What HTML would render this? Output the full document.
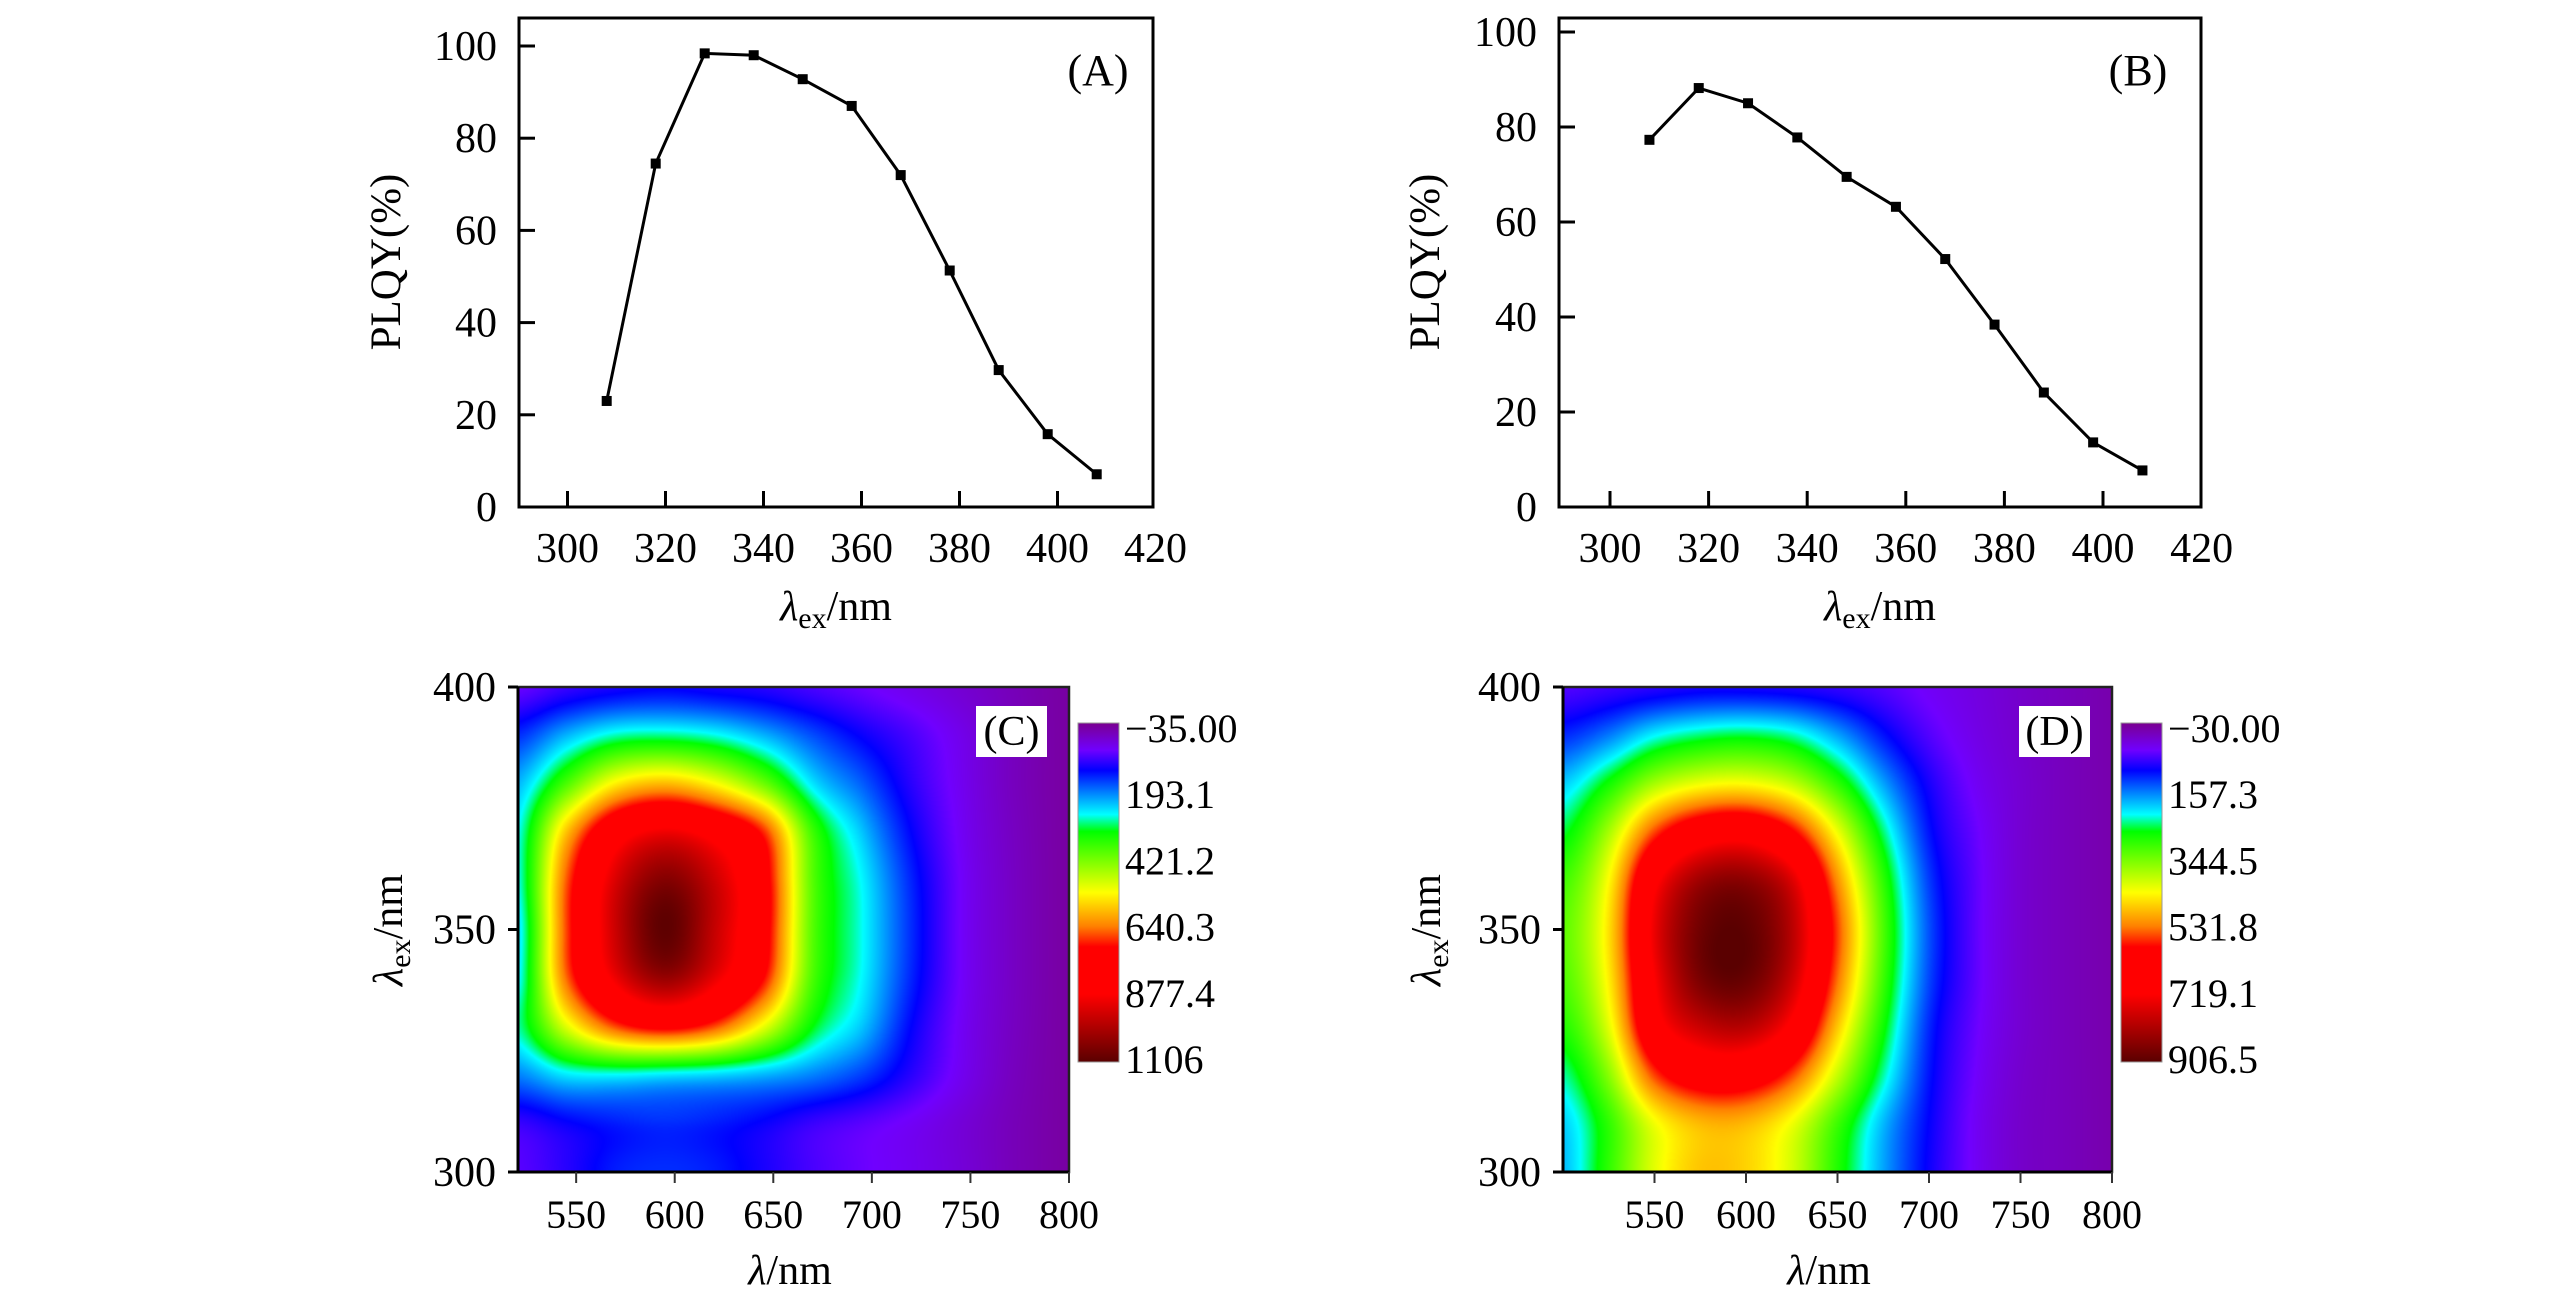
<!DOCTYPE html>
<html><head><meta charset="utf-8">
<style>
html,body{margin:0;padding:0;background:#fff;}
#wrap{position:relative;width:2567px;height:1308px;overflow:hidden;background:#fff;}
canvas{position:absolute;}
svg{position:absolute;left:0;top:0;}
svg text{font-family:"Liberation Serif","Times New Roman",serif;fill:#000;}
</style></head>
<body>
<div id="wrap">
<canvas id="heatC"></canvas>
<canvas id="heatD"></canvas>
<svg id="svg" width="2567" height="1308" viewBox="0 0 2567 1308" font-family="Liberation Serif, Times New Roman, serif">
<defs>
<linearGradient id="cmap" x1="0" y1="0" x2="0" y2="1">
<stop offset="0" stop-color="#7a0090"/><stop offset="0.08" stop-color="#7000ff"/>
<stop offset="0.14" stop-color="#0000ff"/><stop offset="0.27" stop-color="#00ffff"/>
<stop offset="0.32" stop-color="#00ff00"/><stop offset="0.5" stop-color="#ffff00"/>
<stop offset="0.6" stop-color="#ff8000"/><stop offset="0.66" stop-color="#ff0000"/>
<stop offset="0.8" stop-color="#ff0000"/><stop offset="1" stop-color="#5a0000"/>
</linearGradient>
</defs>
</svg>
</div>
<script>
// ---- Panel A / B data ----
const aWave=[308,318,328,338,348,358,368,378,388,398,408];
const aPlqy=[23,74.5,98.4,98,92.8,87,72,51.3,29.7,15.8,7.1];
const bWave=[308,318,328,338,348,358,368,378,388,398,408];
const bPlqy=[77.3,88.2,85,77.8,69.5,63.2,52.2,38.4,24.1,13.6,7.7];
const lineXTicks=[300,320,340,360,380,400,420];
const lineYTicks=[0,20,40,60,80,100];
// ---- Heatmap data ----
const cEm=[520,545,570,595,620,645,670,695,720,745,770,800];
const cEx=[400,390,380,370,360,350,340,330,320,310,300];
const cGrid=[
[60,90,110,120,110,100,80,60,40,20,0,-20],
[150,230,290,300,280,230,170,120,80,40,5,-20],
[230,390,550,600,540,420,260,180,100,45,5,-20],
[270,590,820,900,840,700,380,240,125,50,8,-20],
[270,670,930,1050,950,760,400,270,145,55,10,-20],
[250,680,950,1100,960,760,400,275,150,55,10,-20],
[260,660,900,1020,910,720,390,270,145,55,10,-20],
[290,510,680,740,680,520,330,240,125,50,8,-20],
[200,260,270,260,250,230,200,160,100,45,5,-20],
[90,120,140,150,140,120,90,70,50,25,0,-20],
[70,100,140,150,140,110,80,60,45,25,0,-20]];
const cBarLabels=["\u221235.00","193.1","421.2","640.3","877.4","1106"];
const dEm=[500,525,550,575,600,625,650,675,700,725,750,775,800];
const dEx=[400,390,380,370,360,350,340,330,320,310,300];
const dGrid=[
[60,70,80,90,90,85,75,60,40,25,10,0,-10],
[120,160,220,250,260,240,180,110,60,30,12,0,-10],
[200,280,380,430,440,400,300,180,90,40,15,0,-10],
[260,380,560,660,680,600,430,250,110,50,15,0,-10],
[310,440,700,830,850,760,520,300,130,55,15,0,-10],
[330,460,740,880,900,800,560,320,140,55,15,0,-10],
[320,450,720,870,890,780,540,310,135,55,15,0,-10],
[290,420,680,780,800,700,480,280,120,50,15,0,-10],
[240,360,560,640,640,560,400,240,110,45,12,0,-10],
[200,300,430,490,490,430,310,190,100,40,10,0,-10],
[190,300,420,480,470,410,290,180,95,40,10,0,-10]];
const dBarLabels=["\u221230.00","157.3","344.5","531.8","719.1","906.5"];
const heatXTicks=[550,600,650,700,750,800];
const heatYTicks=[300,350,400];

const NS="http://www.w3.org/2000/svg";
const svg=document.getElementById('svg');
function el(tag,attrs,parent){const e=document.createElementNS(NS,tag);for(const k in attrs)e.setAttribute(k,attrs[k]);(parent||svg).appendChild(e);return e;}
function txt(x,y,s,size,anchor,parent){const t=el('text',{x:x,y:y,'font-size':size,'text-anchor':anchor||'middle','font-family':'Liberation Serif, serif'},parent);t.textContent=s;return t;}
function lamTitle(x,y,sub,rot,parent){
  const t=el('text',{x:x,y:y,'font-size':42,'text-anchor':'middle','font-family':'Liberation Serif, serif'},parent);
  if(rot)t.setAttribute('transform','rotate(-90 '+x+' '+y+')');
  const a=el('tspan',{'font-style':'italic'},t);a.textContent='\u03bb';
  if(sub){const b=el('tspan',{'font-size':30,dy:8},t);b.textContent='ex';const c=el('tspan',{dy:-8},t);c.textContent='/nm';}
  else{const c=el('tspan',{},t);c.textContent='/nm';}
  return t;
}

// ---- Line panels ----
function linePanel(cfg){
  const g=el('g',{});
  
  
  const X=v=>cfg.x0+(v-300)*cfg.kx, Y=v=>cfg.y0-v*cfg.ky;
  const box=el('rect',{x:cfg.L,y:cfg.T,width:cfg.R-cfg.L,height:cfg.B-cfg.T,fill:'#fff',stroke:'#000','stroke-width':3},g);
  
  lineXTicks.forEach(v=>{const x=X(v);
    if(x<cfg.R-4){const t=el('line',{x1:x,x2:x,y1:cfg.B,y2:cfg.B-16,stroke:'#000','stroke-width':3},g);}
    const l=txt(x,562,String(v),42,'middle',g);});
  lineYTicks.forEach(v=>{const y=Y(v);
    if(v>0){const t=el('line',{x1:cfg.L,x2:cfg.L+16,y1:y,y2:y,stroke:'#000','stroke-width':3},g);}
    const l=txt(cfg.L-22,y+14,String(v),42,'end',g);});
  const pts=cfg.xs.map((v,i)=>X(v)+','+Y(cfg.ys[i])).join(' ');
  const pl=el('polyline',{points:pts,fill:'none',stroke:'#000','stroke-width':3},g);
  
  cfg.xs.forEach((v,i)=>{const m=el('rect',{x:X(v)-5,y:Y(cfg.ys[i])-5,width:10,height:10,fill:'#000'},g);
    });
  const yt=txt(cfg.ytx,262,'PLQY(%)',43,'middle',g);yt.setAttribute('transform','rotate(-90 '+cfg.ytx+' 262)');
  yt.setAttribute('dy','14');
  
  const xt=lamTitle((cfg.L+cfg.R)/2,620,true,false,g);
  
  const pl2=txt(cfg.lblx,85,cfg.label,44,'middle',g);
  
}
linePanel({name:'panel-a',L:519,R:1153,T:18,B:507,x0:567.5,kx:4.9,y0:507,ky:4.61,xs:aWave,ys:aPlqy,ytx:386,lblx:1098,label:'(A)'});
linePanel({name:'panel-b',L:1559,R:2201,T:18,B:507,x0:1610,kx:4.93,y0:507,ky:4.75,xs:bWave,ys:bPlqy,ytx:1425,lblx:2138,label:'(B)'});

// ---- Colormap ----
const cstops=[[0,[122,0,144]],[0.08,[112,0,255]],[0.14,[0,0,255]],[0.27,[0,255,255]],[0.32,[0,255,0]],[0.5,[255,255,0]],[0.6,[255,128,0]],[0.66,[255,0,0]],[0.8,[255,0,0]],[1,[90,0,0]]];
function cmap(t){t=Math.max(0,Math.min(1,t));for(let i=1;i<cstops.length;i++){if(t<=cstops[i][0]){const a=cstops[i-1],b=cstops[i];const f=(t-a[0])/(b[0]-a[0]);return a[1].map((c,k)=>c+(b[1][k]-c)*f);}}return cstops[cstops.length-1][1];}
function interp(arr,v){
  const asc=arr[1]>arr[0];
  for(let i=0;i<arr.length-1;i++){const a=arr[i],b=arr[i+1];
    if(asc?(v>=a&&v<=b):(v<=a&&v>=b))return i+(v-a)/(b-a);}
  if(asc)return v<arr[0]?0:arr.length-1; return v>arr[0]?0:arr.length-1;
}
function cr(p0,p1,p2,p3,t){return 0.5*((2*p1)+(-p0+p2)*t+(2*p0-5*p1+4*p2-p3)*t*t+(-p0+3*p1-3*p2+p3)*t*t*t);}
function sampleGrid(G,fi,fj){
  const nr=G.length,nc=G[0].length;
  const i=Math.min(Math.floor(fi),nr-2),j=Math.min(Math.floor(fj),nc-2);
  const ty=fi-i,tx=fj-j;
  const R=k=>G[Math.max(0,Math.min(nr-1,k))];
  const row=r=>{const C=k=>r[Math.max(0,Math.min(nc-1,k))];return cr(C(j-1),C(j),C(j+1),C(j+2),tx);};
  return cr(row(R(i-1)),row(R(i)),row(R(i+1)),row(R(i+2)),ty);
}
function heatPanel(cfg){
  const cv=document.getElementById(cfg.id);
  const w=cfg.R-cfg.L,h=cfg.B-cfg.T;
  cv.width=w;cv.height=h;cv.style.left=cfg.L+'px';cv.style.top=cfg.T+'px';
  const ctx=cv.getContext('2d');const img=ctx.createImageData(w,h);
  const xi=[];for(let px=0;px<w;px++){xi.push(interp(cfg.em,cfg.xmin+(px+0.5)/w*(800-cfg.xmin)));}
  for(let py=0;py<h;py++){
    const yi=interp(cfg.ex,400-(py+0.5)/h*100);
    for(let px=0;px<w;px++){
      const v=sampleGrid(cfg.grid,yi,xi[px]);
      const c=cmap((v-cfg.vmin)/(cfg.vmax-cfg.vmin));const o=(py*w+px)*4;
      img.data[o]=c[0];img.data[o+1]=c[1];img.data[o+2]=c[2];img.data[o+3]=255;}
  }
  ctx.putImageData(img,0,0);
  const g=el('g',{});
  
  
  const X=v=>cfg.L+(v-cfg.xmin)/(800-cfg.xmin)*w, Y=v=>cfg.B-(v-300)/100*h;
  const fr=el('rect',{x:cfg.L,y:cfg.T,width:w,height:h,fill:'none',stroke:'#222','stroke-width':2.5},g);
  
  el('line',{x1:cfg.L,x2:cfg.L,y1:cfg.T,y2:cfg.B,stroke:'#000','stroke-width':3},g);
  el('line',{x1:cfg.L-10,x2:cfg.R,y1:cfg.B,y2:cfg.B,stroke:'#000','stroke-width':3},g);
  heatXTicks.forEach(v=>{const x=X(v);
    const t=el('line',{x1:x,x2:x,y1:cfg.B,y2:cfg.B+11,stroke:'#333','stroke-width':2},g);
    const l=txt(x,1228,String(v),40,'middle',g);});
  heatYTicks.forEach(v=>{const y=Y(v);
    const t=el('line',{x1:cfg.L-10,x2:cfg.L,y1:y,y2:y,stroke:'#000','stroke-width':3},g);
    const l=txt(cfg.L-22,y+14,String(v),42,'end',g);});
  const yt=lamTitle(cfg.ytx,930,true,true,g);yt.setAttribute('dy','14');
  
  const xt=lamTitle(cfg.xtx,1284,false,false,g);
  
  const lb=el('rect',{x:cfg.lbL,y:706,width:cfg.lbR-cfg.lbL,height:51,fill:'#fff'},g);
  
  const lt=txt((cfg.lbL+cfg.lbR)/2,745,cfg.label,42,'middle',g);
  
  const cb=el('rect',{x:cfg.cbL,y:723,width:41,height:339,fill:'url(#cmap)',stroke:'#999','stroke-width':1},g);
  
  cfg.bar.forEach((s,i)=>{const y=728+i*66.2;
    const l=txt(cfg.cbL+47,y+14,s,40,'start',g);});
}
heatPanel({id:'heatC',name:'panel-c',L:518,R:1069,T:687,B:1172,xmin:520.5,em:cEm,ex:cEx,grid:cGrid,vmin:-35,vmax:1106,ytx:388,xtx:790,lbL:976,lbR:1047,label:'(C)',cbL:1078,bar:cBarLabels});
heatPanel({id:'heatD',name:'panel-d',L:1563,R:2112,T:687,B:1172,xmin:500,em:dEm,ex:dEx,grid:dGrid,vmin:-30,vmax:906.5,ytx:1426,xtx:1829,lbL:2019,lbR:2090,label:'(D)',cbL:2121,bar:dBarLabels});
</script>
</body></html>
